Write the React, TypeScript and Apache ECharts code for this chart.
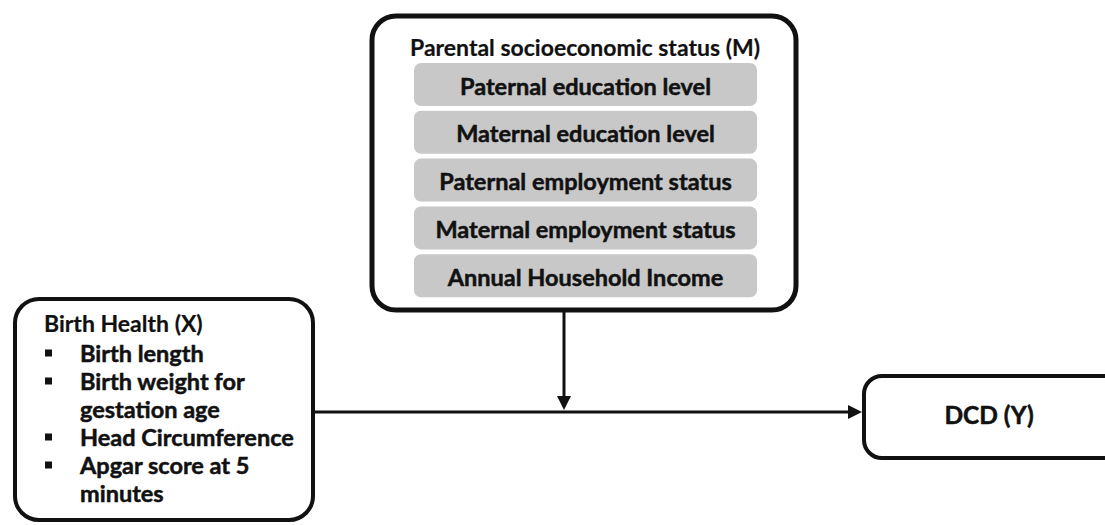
import React, { useEffect, useRef } from "react";
import * as echarts from "echarts";

const mediatorTitle = "Parental socioeconomic status (M)";
const mediators = [
  "Paternal education level",
  "Maternal education level",
  "Paternal employment status",
  "Maternal employment status",
  "Annual Household Income",
];
const exposureTitle = "Birth Health (X)";
const exposureItems: string[][] = [
  ["Birth length"],
  ["Birth weight for", "gestation age"],
  ["Head Circumference"],
  ["Apgar score at 5", "minutes"],
];
const outcomeLabel = "DCD (Y)";

const FONT = "Lato";
const INK = "#111111";

export default function App() {
  const ref = useRef<HTMLDivElement>(null);
  useEffect(() => {
    if (!ref.current) return;
    const chart = echarts.init(ref.current, null, { renderer: "svg" });
    const g: any[] = [];
    const txt = (text: string, x: number, y: number, size: number, align = "center", heavy = 0.5) => ({
      type: "text",
      x,
      y,
      style: {
        text,
        fontSize: size,
        fontWeight: "bold",
        fontFamily: FONT,
        fill: INK,
        stroke: INK,
        lineWidth: heavy,
        textAlign: align,
        textVerticalAlign: "middle",
        verticalAlign: "middle",
      },
      z: 10,
    });

    // Top mediator box
    g.push({
      type: "rect",
      shape: { x: 372, y: 16, width: 424, height: 294, r: 24 },
      style: { fill: "#ffffff", stroke: INK, lineWidth: 5 },
      z: 1,
    });
    g.push(txt(mediatorTitle, 585, 47, 23, "center", 0.2));
    const gx = 414, gw = 343, gh = 43, gy0 = 63, gp = 47.8;
    mediators.forEach((m, i) => {
      const y = gy0 + i * gp;
      g.push({
        type: "rect",
        shape: { x: gx, y, width: gw, height: gh, r: 7 },
        style: { fill: "#c8c8c8" },
        z: 2,
      });
      g.push(txt(m, gx + gw / 2, y + gh / 2 + 1, 23.5));
    });

    // Vertical arrow
    g.push({ type: "line", shape: { x1: 564, y1: 312, x2: 564, y2: 398 }, style: { stroke: INK, lineWidth: 3 }, z: 3 });
    g.push({ type: "polygon", shape: { points: [[557, 396], [571, 396], [564, 410]] }, style: { fill: INK }, z: 3 });

    // Horizontal arrow
    g.push({ type: "line", shape: { x1: 313, y1: 412, x2: 850, y2: 412 }, style: { stroke: INK, lineWidth: 3 }, z: 3 });
    g.push({ type: "polygon", shape: { points: [[848, 405], [848, 419], [862, 412]] }, style: { fill: INK }, z: 3 });

    // Left exposure box
    g.push({
      type: "rect",
      shape: { x: 15, y: 299, width: 298, height: 221, r: 24 },
      style: { fill: "#ffffff", stroke: INK, lineWidth: 4 },
      z: 4,
    });
    g.push(txt(exposureTitle, 44, 323, 23, "left", 0.2));
    let y = 353;
    exposureItems.forEach((lines) => {
      g.push({ type: "rect", shape: { x: 45, y: y - 3.5, width: 7, height: 7 }, style: { fill: INK }, z: 10 });
      lines.forEach((l) => {
        g.push(txt(l, 80, y, 23.5, "left"));
        y += 28;
      });
    });

    // Outcome box
    g.push({
      type: "rect",
      shape: { x: 864, y: 376, width: 300, height: 82, r: 18 },
      style: { fill: "#ffffff", stroke: INK, lineWidth: 4 },
      z: 4,
    });
    g.push(txt(outcomeLabel, 989, 414, 24.5));

    chart.setOption({ animation: false, graphic: { elements: g } });
    return () => chart.dispose();
  }, []);
  return (
    <div
      ref={ref}
      style={{ position: "fixed", left: 0, top: 0, width: 1105, height: 525, background: "#ffffff" }}
    />
  );
}
